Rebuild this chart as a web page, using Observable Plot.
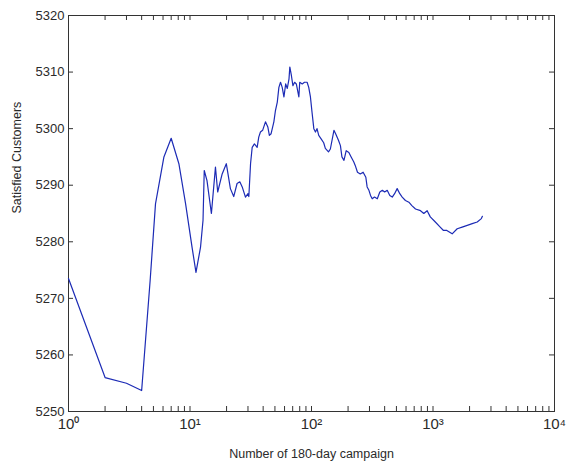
<!DOCTYPE html>
<html>
<head>
<meta charset="utf-8">
<script src="https://cdn.jsdelivr.net/npm/d3@7"></script>
<script src="https://cdn.jsdelivr.net/npm/@observablehq/plot@0.6"></script>
<style>
  html, body { margin: 0; padding: 0; background: #fff; }
  #chart { width: 567px; height: 466px; }
</style>
</head>
<body>
<div id="chart"></div>
<script>
// Campaign number (x) and satisfied customers (y)
const campaigns = [1,2,3,4,4.7,5.2,6.1,7,8.1,9.2,10.4,11.2,12.2,12.8,13.1,13.8,15,16.2,16.9,18.4,19.9,21.5,22.9,24.4,25.7,26.9,28.6,30,30.5,31.5,32.5,33.9,35.7,36.8,38,39.6,41.8,43.7,45,46.5,49,50.5,52.3,53.9,55.6,57.4,59.3,61.3,63.2,65.3,66.3,68.3,70.3,72.6,75,78.7,80,83.9,87.5,92,94.9,98,101,104.5,107.8,111,114.7,120,126,130,138,143,153,158,167,173,178,185,193,203,212,223,229,239,252,266,280,287,297,306,316,330,348,365,383,400,420,441,462,483,507,533,558,593,633,670,718,789,840,895,950,1045,1146,1220,1300,1438,1582,1737,1914,2103,2312,2500,2550];
const customers = [5273.5,5256,5255,5253.7,5273.2,5286.7,5295,5298.3,5293.8,5286.7,5279,5274.6,5279,5283.8,5292.6,5290.8,5285,5293.2,5288.8,5292,5293.8,5289.4,5288,5290.3,5290.6,5289.7,5287.9,5288.5,5288,5293.8,5296.7,5297.3,5296.7,5298.5,5299.4,5299.7,5301.2,5300.3,5298.8,5299.1,5301.2,5303.2,5304.7,5307.3,5308.2,5307.3,5305.6,5307.9,5307.1,5308.8,5310.9,5309.4,5307.6,5308.2,5307.9,5305.6,5308.2,5307.9,5308.2,5308.2,5307.3,5305.6,5302.9,5300,5299.4,5300,5298.8,5298.2,5297.5,5296.5,5295.9,5296.4,5299.7,5299.1,5297.9,5297,5295,5294.4,5296.1,5295.8,5295,5294.1,5293.5,5292.3,5292,5292.3,5291.4,5289.7,5289.1,5288.2,5287.6,5287.9,5287.6,5288.8,5289.1,5288.8,5289.1,5288.2,5287.9,5288.5,5289.4,5288.5,5287.9,5287.3,5287,5286.4,5285.8,5285.5,5285,5285.5,5284.4,5283.5,5282.6,5282,5282,5281.4,5282.3,5282.6,5282.9,5283.2,5283.5,5284.1,5284.5];

const xMajorTicks = [1, 10, 100, 1000, 10000];
const xTickLabels = ["10\u2070", "10\u00b9", "10\u00b2", "10\u00b3", "10\u2074"];
const yTicks = [5250, 5260, 5270, 5280, 5290, 5300, 5310, 5320];
const xMinorTicks = [];
for (let e = 0; e < 4; e++) for (let m = 2; m <= 9; m++) xMinorTicks.push(m * Math.pow(10, e));

const data = campaigns.map((c, i) => ({x: c, y: customers[i]}));
const xLabelData = xMajorTicks.map((v, i) => ({v, t: xTickLabels[i]}));

const W = 567, H = 466;
const mL = 68, mR = 13, mT = 15, mB = 55;
const fh = H - mT - mB, fw = W - mL - mR;
const tl = 5;
const axisColor = "#333";
const textColor = "#2a2a2a";
const allX = xMajorTicks.concat(xMinorTicks);

const chart = Plot.plot({
  width: W, height: H,
  marginLeft: mL, marginRight: mR, marginTop: mT, marginBottom: mB,
  style: {fontFamily: "'Liberation Sans', Arial, sans-serif", fontSize: "12px", color: textColor, background: "#fff"},
  x: {type: "log", domain: [1, 10000], axis: null},
  y: {domain: [5250, 5320], axis: null},
  marks: [
    // inward ticks bottom & top
    Plot.ruleX(allX, {x: d => d, insetTop: fh - tl, stroke: axisColor}),
    Plot.ruleX(allX, {x: d => d, insetBottom: fh - tl, stroke: axisColor}),
    // inward ticks left & right
    Plot.ruleY(yTicks, {y: d => d, insetRight: fw - tl, stroke: axisColor}),
    Plot.ruleY(yTicks, {y: d => d, insetLeft: fw - tl, stroke: axisColor}),
    Plot.frame({stroke: axisColor, strokeWidth: 1}),
    Plot.text(xLabelData, {x: "v", text: "t", frameAnchor: "bottom", dy: 17, fontSize: 15, fill: textColor}),
    Plot.text(yTicks, {y: d => d, text: d => String(d), frameAnchor: "left", textAnchor: "end", dx: -4, fontSize: 13, fill: textColor}),
    Plot.text(["Number of 180-day campaign"], {frameAnchor: "bottom", dy: 46, fontSize: 12.5, fill: textColor}),
    Plot.text(["Satisfied Customers"], {frameAnchor: "left", dx: -52, rotate: -90, fontSize: 12.5, fill: textColor}),
    Plot.line(data, {x: "x", y: "y", stroke: "#1c2bb5", strokeWidth: 1.2})
  ]
});
document.getElementById("chart").appendChild(chart);
</script>
</body>
</html>
